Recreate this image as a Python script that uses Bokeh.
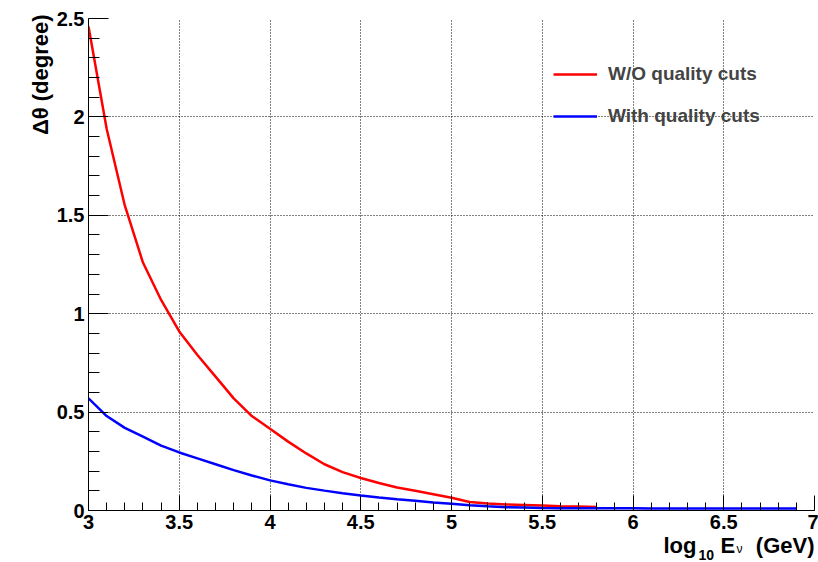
from math import pi
from bokeh.plotting import figure
from bokeh.layouts import column
from bokeh.models import Range1d, FixedTicker, Legend, LegendItem, Title
from bokeh.core.properties import value
from bokeh.embed import file_html
from bokeh.resources import INLINE

# ---------------- data ----------------
x_red = [3.0, 3.1, 3.2, 3.3, 3.4, 3.5, 3.6, 3.7, 3.8, 3.9,
         4.0, 4.1, 4.2, 4.3, 4.4, 4.5, 4.6, 4.7, 4.8, 4.9,
         5.0, 5.1, 5.2, 5.3, 5.4, 5.5, 5.6, 5.7, 5.8]
y_red = [2.46, 1.94, 1.55, 1.26, 1.07, 0.91, 0.79, 0.68, 0.57, 0.48,
         0.415, 0.35, 0.29, 0.235, 0.195, 0.165, 0.14, 0.117, 0.10, 0.083,
         0.065, 0.043, 0.036, 0.031, 0.028, 0.025, 0.022, 0.020, 0.018]

x_blue = [3.0, 3.1, 3.2, 3.3, 3.4, 3.5, 3.6, 3.7, 3.8, 3.9,
          4.0, 4.1, 4.2, 4.3, 4.4, 4.5, 4.6, 4.7, 4.8, 4.9,
          5.0, 5.1, 5.2, 5.3, 5.4, 5.5, 5.6, 5.7, 5.8, 5.9,
          6.0, 6.1, 6.2, 6.3, 6.4, 6.5, 6.6, 6.7, 6.8, 6.9]
y_blue = [0.57, 0.48, 0.42, 0.375, 0.33, 0.295, 0.265, 0.235, 0.205, 0.178,
          0.153, 0.133, 0.115, 0.101, 0.088, 0.076, 0.066, 0.057, 0.049, 0.041,
          0.034, 0.027, 0.021, 0.017, 0.015, 0.013, 0.012, 0.012, 0.011, 0.011,
          0.011, 0.010, 0.010, 0.010, 0.010, 0.010, 0.010, 0.010, 0.010, 0.010]

series_labels = ["W/O quality cuts", "With quality cuts"]

x_ticks = [3.0, 3.5, 4.0, 4.5, 5.0, 5.5, 6.0, 6.5, 7.0]
x_tick_labels = ["3", "3.5", "4", "4.5", "5", "5.5", "6", "6.5", "7"]
y_ticks = [0.0, 0.5, 1.0, 1.5, 2.0, 2.5]
y_tick_labels = ["0", "0.5", "1", "1.5", "2", "2.5"]

x_title_parts = ["log", "10", "E", "\u03bd", "(GeV)"]
y_title = "\u0394\u03b8 (degree)"

# ---------------- main figure ----------------
W = 818
H_MAIN, H_TITLE = 535, 27
ML, MR, MT, MB = 88, 4, 18, 25
X0, X1, Y0, Y1 = 3.0, 7.0, 0.0, 2.5
FONT = "Liberation Sans"

p = figure(width=W, height=H_MAIN, x_range=Range1d(X0, X1), y_range=Range1d(Y0, Y1),
           output_backend="svg", toolbar_location=None,
           min_border_left=ML, min_border_right=MR,
           min_border_top=MT, min_border_bottom=MB)
p.outline_line_color = None
p.background_fill_color = "white"
p.border_fill_color = "white"

x_minor = [round(X0 + 0.1 * i, 1) for i in range(41)]
y_minor = [round(Y0 + 0.1 * i, 1) for i in range(26)]
p.xaxis.ticker = FixedTicker(ticks=x_ticks, minor_ticks=x_minor)
p.yaxis.ticker = FixedTicker(ticks=y_ticks, minor_ticks=y_minor)
p.xaxis.major_label_overrides = {t: l for t, l in zip(x_ticks, x_tick_labels)}
p.yaxis.major_label_overrides = {t: l for t, l in zip(y_ticks, y_tick_labels)}

for ax in (p.xaxis, p.yaxis):
    ax.axis_line_color = "black"
    ax.axis_line_width = 1
    ax.major_tick_line_color = "black"
    ax.minor_tick_line_color = "black"
    ax.major_tick_out = 0
    ax.minor_tick_out = 0
    ax.major_label_text_font = FONT
    ax.major_label_text_font_style = "bold"
    ax.major_label_text_font_size = "20px"
    ax.major_label_text_color = "black"
    ax.major_label_standoff = 4
p.xaxis.major_tick_in = 15
p.xaxis.minor_tick_in = 8
p.yaxis.major_tick_in = 20
p.yaxis.minor_tick_in = 11

p.xgrid.ticker = FixedTicker(ticks=x_ticks)
p.ygrid.ticker = FixedTicker(ticks=y_ticks)
for g in (p.xgrid, p.ygrid):
    g.grid_line_color = "black"
    g.grid_line_alpha = 1.0
    g.grid_line_width = 1
    g.grid_line_dash = "1 2"

r_red = p.line(x_red, y_red, line_color="#ff0000", line_width=2.5)
r_blue = p.line(x_blue, y_blue, line_color="#0000ff", line_width=2.5)

legend = Legend(items=[LegendItem(label=series_labels[0], renderers=[r_red]),
                       LegendItem(label=series_labels[1], renderers=[r_blue])],
                location=(465, 382), orientation="vertical",
                border_line_color=None, background_fill_alpha=0,
                padding=0, margin=0, glyph_width=44, glyph_height=24,
                label_height=24, spacing=18, label_standoff=11,
                label_text_font=FONT, label_text_font_style="bold",
                label_text_font_size="19px", label_text_baseline="middle")
p.add_layout(legend)

# y title as a side title, aligned to the top end of the axis
p.add_layout(Title(text=y_title, align="right", text_font=FONT,
                   text_font_style="bold", text_font_size="22px",
                   text_color="black", offset=-4, standoff=2), "left")

# ---------------- strip below for the x title ----------------
# its frame spans the same pixels as the main frame; coordinates = page pixels
t = figure(width=W, height=H_TITLE, title=None,
           x_range=Range1d(ML, W - MR), y_range=Range1d(0, H_TITLE),
           output_backend="svg", toolbar_location=None,
           x_axis_location=None, y_axis_location=None,
           min_border_left=ML, min_border_right=MR, min_border_top=0, min_border_bottom=0)
t.grid.visible = False
t.outline_line_color = None
t.background_fill_color = "white"
t.border_fill_color = "white"

def piece(x, y, text, size, style="bold", align="left"):
    t.text(x=[x], y=[y], text=[text], text_align=align, text_baseline="alphabetic",
           text_font=value(FONT), text_font_style=style,
           text_font_size=size, text_color="black")

# layout positions in strip pixels (y measured up from the strip bottom)
piece(663, 17, x_title_parts[0], "22px")
piece(698, 8, x_title_parts[1], "14px")
piece(720, 17, x_title_parts[2], "22px")
piece(736, 14, x_title_parts[3], "12px", style="normal")
piece(814, 17, x_title_parts[4], "22px", align="right")

layout = column(p, t, spacing=0)
open("out.html", "w").write(file_html(layout, INLINE))
